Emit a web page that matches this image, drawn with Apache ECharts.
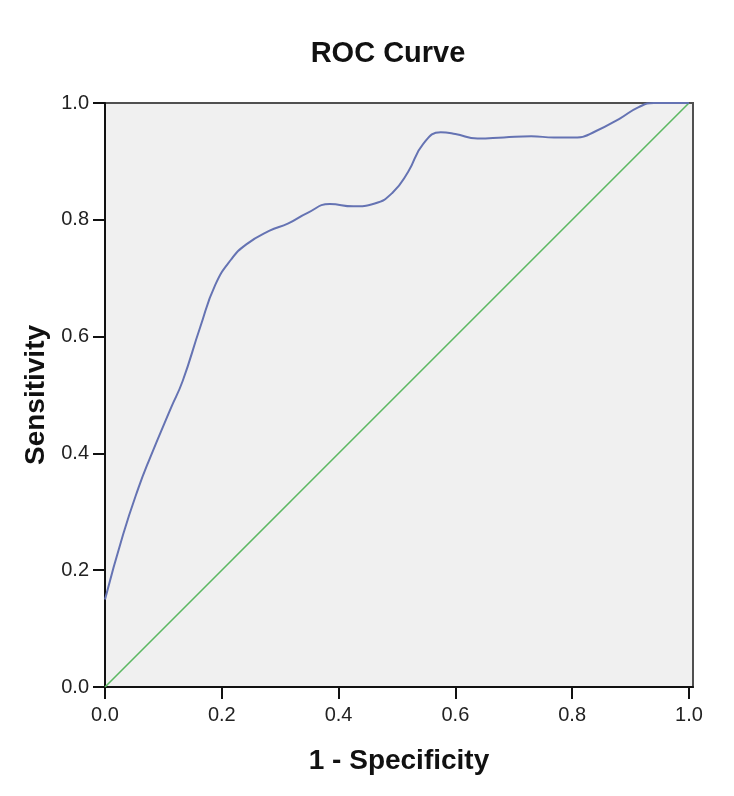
<!DOCTYPE html>
<html>
<head>
<meta charset="utf-8">
<script src="https://cdn.jsdelivr.net/npm/echarts@6/dist/echarts.min.js"></script>
<style>
html,body{margin:0;padding:0;background:#fff;}
#chart{width:734px;height:796px;}
</style>
</head>
<body>
<div id="chart"></div>
<script>
const rocX = [0.0, 0.031, 0.057, 0.077, 0.113, 0.133, 0.163, 0.189, 0.216, 0.242, 0.281, 0.314, 0.347, 0.385, 0.425, 0.462, 0.492, 0.519, 0.545, 0.575, 0.600, 0.638, 0.683, 0.730, 0.769, 0.809, 0.841, 0.881, 0.914, 0.940, 1.0];
const rocY = [0.150, 0.261, 0.340, 0.392, 0.478, 0.524, 0.616, 0.689, 0.732, 0.758, 0.781, 0.794, 0.812, 0.827, 0.823, 0.828, 0.846, 0.882, 0.930, 0.950, 0.947, 0.939, 0.941, 0.943, 0.941, 0.941, 0.952, 0.973, 0.993, 1.0, 1.0];
const refX = [0, 1];
const refY = [0, 1];
const tickValues = [0, 0.2, 0.4, 0.6, 0.8, 1.0];

const chart = echarts.init(document.getElementById('chart'));
const font = 'Liberation Sans, Arial, sans-serif';
chart.setOption({
  animation: false,
  backgroundColor: '#ffffff',
  title: {
    text: 'ROC Curve',
    left: 383,
    textAlign: 'center',
    top: 34,
    textStyle: {fontFamily: font, fontSize: 29, fontWeight: 'bold', color: '#111'}
  },
  grid: {
    left: 105, top: 103, right: 41, bottom: 109,
    show: true, backgroundColor: '#f0f0f0', borderColor: '#505050', borderWidth: 2
  },
  xAxis: {
    type: 'value', min: 0, max: 1.007,
    name: '1 - Specificity', nameLocation: 'middle', nameGap: 60,
    nameTextStyle: {fontFamily: font, fontSize: 28, fontWeight: 'bold', color: '#111'},
    axisLine: {show: true, lineStyle: {color: '#111', width: 2}},
    axisTick: {show: true, length: 12, lineStyle: {color: '#111', width: 2}, customValues: tickValues},
    axisLabel: {fontFamily: font, fontSize: 20, color: '#222', margin: 18, customValues: tickValues,
      formatter: v => v.toFixed(1)},
    splitLine: {show: false}
  },
  yAxis: {
    type: 'value', min: 0, max: 1, interval: 0.2,
    name: 'Sensitivity', nameLocation: 'middle', nameGap: 54, nameRotate: 90,
    nameTextStyle: {fontFamily: font, fontSize: 28, fontWeight: 'bold', color: '#111'},
    axisLine: {show: true, lineStyle: {color: '#111', width: 2}},
    axisTick: {show: true, length: 12, lineStyle: {color: '#111', width: 2}},
    axisLabel: {fontFamily: font, fontSize: 20, color: '#222', margin: 16,
      formatter: v => v.toFixed(1)},
    splitLine: {show: false}
  },
  series: [
    {
      type: 'line', data: refX.map((x, i) => [x, refY[i]]),
      symbol: 'none', lineStyle: {color: '#5cb862', width: 1.6}, z: 2
    },
    {
      type: 'line', data: rocX.map((x, i) => [x, rocY[i]]),
      symbol: 'none', smooth: 0.5,
      lineStyle: {color: '#6573b3', width: 2}, z: 3
    }
  ]
});
</script>
</body>
</html>
